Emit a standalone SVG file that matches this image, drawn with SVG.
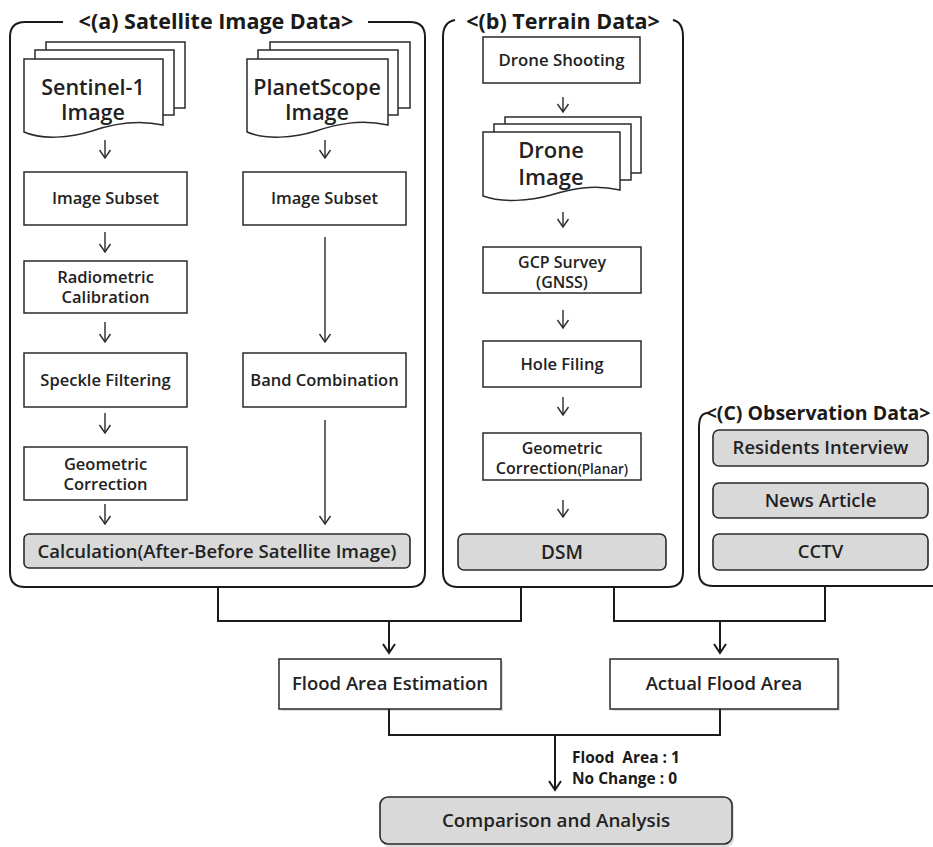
<svg xmlns="http://www.w3.org/2000/svg" width="933" height="847" viewBox="0 0 933 847">
<defs>
<style>
.t{font-family:"Open Sans","Noto Sans","Liberation Sans",sans-serif;font-weight:600;fill:#222;text-anchor:middle;}
.box{fill:#fff;stroke:#2a2a2a;stroke-width:1.5;}
.gbox{fill:#d9d9d9;stroke:#2a2a2a;stroke-width:1.6;}
.pan{fill:none;stroke:#1a1a1a;stroke-width:2;}
.doc{fill:#fff;stroke:#2a2a2a;stroke-width:1.5;}
.ar{fill:none;stroke:#2a2a2a;stroke-width:1.4;}
.con{fill:none;stroke:#1a1a1a;stroke-width:2;}
.ttl{font-family:"Open Sans","Noto Sans","Liberation Sans",sans-serif;font-weight:700;fill:#1a1a1a;text-anchor:middle;}
</style>
<marker id="ah" viewBox="-10 -7 12 14" markerWidth="12" markerHeight="14" refX="0" refY="0" orient="auto" markerUnits="userSpaceOnUse">
<path d="M-8,-5.5 L0,0 L-8,5.5" fill="none" stroke="#2a2a2a" stroke-width="1.4"/>
</marker>
<marker id="ahb" viewBox="-12 -8 14 16" markerWidth="14" markerHeight="16" refX="0" refY="0" orient="auto" markerUnits="userSpaceOnUse">
<path d="M-9,-6 L0,0 L-9,6" fill="none" stroke="#1a1a1a" stroke-width="2"/>
</marker>
</defs>
<rect width="933" height="847" fill="#fff"/>

<!-- Panels -->
<g id="panel-a">
<path class="pan" d="M63,22 H25 Q10,22 10,37 V572 Q10,587 25,587 H410 Q425,587 425,572 V37 Q425,22 410,22 H368"/>
<text class="ttl" x="216" y="29" font-size="21.5">&lt;(a) Satellite Image Data&gt;</text>
</g>
<g id="panel-b">
<path class="pan" d="M455,20 Q443,22 443,37 V572 Q443,587 458,587 H668 Q683,587 683,572 V37 Q683,22 673,20"/>
<text class="ttl" x="563" y="29" font-size="21.5">&lt;(b) Terrain Data&gt;</text>
</g>
<g id="panel-c">
<path class="pan" d="M708,413 Q699,413 699,427 V572 Q699,586 713,586 H940"/>
<text class="ttl" x="818" y="420" font-size="19.5">&lt;(C) Observation Data&gt;</text>
</g>

<!-- Documents -->
<g id="sentinel1">
<rect class="doc" x="46" y="42" width="139" height="66"/>
<rect class="doc" x="35" y="50" width="139" height="65"/>
<path class="doc" d="M24,59 H163 V125 C135,119 112,124 92,131 C70,138 42,140 24,132 Z"/>
<text class="t" font-size="21.5"><tspan x="93" y="95">Sentinel-1</tspan><tspan x="93" y="120">Image</tspan></text>
</g>
<g id="planetscope">
<rect class="doc" x="270" y="42" width="140" height="66"/>
<rect class="doc" x="258" y="50" width="140" height="65"/>
<path class="doc" d="M247,59 H388 V125 C360,119 337,124 316,131 C294,138 266,140 247,132 Z"/>
<text class="t" font-size="21.5"><tspan x="317" y="95">PlanetScope</tspan><tspan x="317" y="120">Image</tspan></text>
</g>

<g id="s-subset"><rect class="box" x="24" y="172" width="163" height="53"/><text class="t" x="105.5" y="204" font-size="16.5">Image Subset</text></g>
<g id="p-subset"><rect class="box" x="243" y="172" width="163" height="53"/><text class="t" x="324.5" y="204" font-size="16.5">Image Subset</text></g>
<g id="radiometric"><rect class="box" x="24" y="261" width="163" height="52"/><text class="t" font-size="16.5"><tspan x="105.5" y="283">Radiometric</tspan><tspan x="105.5" y="303">Calibration</tspan></text></g>
<g id="speckle"><rect class="box" x="24" y="353" width="163" height="54"/><text class="t" x="105.5" y="386" font-size="16.5">Speckle Filtering</text></g>
<g id="band"><rect class="box" x="243" y="353" width="163" height="54"/><text class="t" x="324.5" y="386" font-size="16.5">Band Combination</text></g>
<g id="geo-a"><rect class="box" x="24" y="447" width="163" height="53"/><text class="t" font-size="16.5"><tspan x="105.5" y="470">Geometric</tspan><tspan x="105.5" y="490">Correction</tspan></text></g>
<g id="calc"><rect class="gbox" x="24" y="534" width="386" height="34" rx="5"/><text class="t" x="217" y="558" font-size="18.5">Calculation(After-Before Satellite Image)</text></g>

<g id="drone-shooting"><rect class="box" x="483" y="37" width="157" height="46"/><text class="t" x="561.5" y="66" font-size="16.8">Drone Shooting</text></g>
<g id="drone-image">
<rect class="doc" x="505" y="117" width="136" height="56"/>
<rect class="doc" x="494" y="124" width="137" height="56"/>
<path class="doc" d="M483,132 H620 V190 C593,184 571,189 551,195 C530,201 502,203 483,196 Z"/>
<text class="t" font-size="22"><tspan x="551" y="158">Drone</tspan><tspan x="551" y="185">Image</tspan></text>
</g>
<g id="gcp"><rect class="box" x="483" y="247" width="158" height="46"/><text class="t" font-size="16"><tspan x="562" y="268">GCP Survey</tspan><tspan x="562" y="288">(GNSS)</tspan></text></g>
<g id="hole"><rect class="box" x="483" y="341" width="158" height="46"/><text class="t" x="562" y="370" font-size="16.5">Hole Filing</text></g>
<g id="geo-b"><rect class="box" x="483" y="433" width="158" height="47"/><text class="t" font-size="16"><tspan x="562" y="454">Geometric</tspan><tspan x="562" y="474">Correction<tspan font-size="13.5">(Planar)</tspan></tspan></text></g>
<g id="dsm"><rect class="gbox" x="458" y="534" width="208" height="36" rx="6"/><text class="t" x="562" y="559" font-size="19">DSM</text></g>

<g id="residents"><rect class="gbox" x="713" y="430" width="215" height="36" rx="6"/><text class="t" x="820.5" y="454" font-size="18.5">Residents Interview</text></g>
<g id="news"><rect class="gbox" x="713" y="483" width="215" height="35" rx="6"/><text class="t" x="820.5" y="507" font-size="18.5">News Article</text></g>
<g id="cctv"><rect class="gbox" x="713" y="534" width="215" height="36" rx="6"/><text class="t" x="820.5" y="558" font-size="18.5">CCTV</text></g>

<g id="flood-est"><rect x="281" y="661" width="222" height="50" fill="#bbb" opacity="0.5"/><rect class="box" x="279" y="659" width="222" height="50" stroke-width="2"/><text class="t" x="390" y="690" font-size="18.5">Flood Area Estimation</text></g>
<g id="actual"><rect x="612" y="661" width="228" height="50" fill="#bbb" opacity="0.5"/><rect class="box" x="610" y="659" width="228" height="50" stroke-width="2"/><text class="t" x="724" y="690" font-size="18.5">Actual Flood Area</text></g>
<g id="comparison"><rect x="382" y="799" width="352" height="48" rx="8" fill="#bbb" opacity="0.5"/><rect class="gbox" x="380" y="797" width="352" height="47" rx="8" stroke-width="2"/><text class="t" x="556" y="827" font-size="18.8">Comparison and Analysis</text></g>

<!-- Connectors -->
<g id="connectors">
<line class="ar" x1="105" y1="140" x2="105" y2="158" marker-end="url(#ah)"/>
<line class="ar" x1="325" y1="140" x2="325" y2="158" marker-end="url(#ah)"/>
<line class="ar" x1="105" y1="232" x2="105" y2="252" marker-end="url(#ah)"/>
<line class="ar" x1="105" y1="322" x2="105" y2="342" marker-end="url(#ah)"/>
<line class="ar" x1="105" y1="413" x2="105" y2="433" marker-end="url(#ah)"/>
<line class="ar" x1="105" y1="504" x2="105" y2="524" marker-end="url(#ah)"/>
<line class="ar" x1="325" y1="237" x2="325" y2="342" marker-end="url(#ah)"/>
<line class="ar" x1="325" y1="420" x2="325" y2="524" marker-end="url(#ah)"/>
<line class="ar" x1="563" y1="97" x2="563" y2="112" marker-end="url(#ah)"/>
<line class="ar" x1="563" y1="212" x2="563" y2="227" marker-end="url(#ah)"/>
<line class="ar" x1="563" y1="310" x2="563" y2="328" marker-end="url(#ah)"/>
<line class="ar" x1="563" y1="397" x2="563" y2="415" marker-end="url(#ah)"/>
<line class="ar" x1="563" y1="500" x2="563" y2="517" marker-end="url(#ah)"/>
<polyline class="con" points="218,587 218,621 521,621 521,587"/>
<line class="con" x1="389" y1="621" x2="389" y2="653" marker-end="url(#ahb)"/>
<polyline class="con" points="614,587 614,621 825,621 825,586"/>
<line class="con" x1="720" y1="621" x2="720" y2="653" marker-end="url(#ahb)"/>
<polyline class="con" points="389,709 389,735 720,735 720,709"/>
<line class="con" x1="555" y1="735" x2="555" y2="790" marker-end="url(#ahb)"/>
<text class="ttl" font-size="15.5" style="text-anchor:start" xml:space="preserve"><tspan x="572" y="763">Flood  Area : 1</tspan><tspan x="572" y="784">No Change : 0</tspan></text>
</g>
</svg>
